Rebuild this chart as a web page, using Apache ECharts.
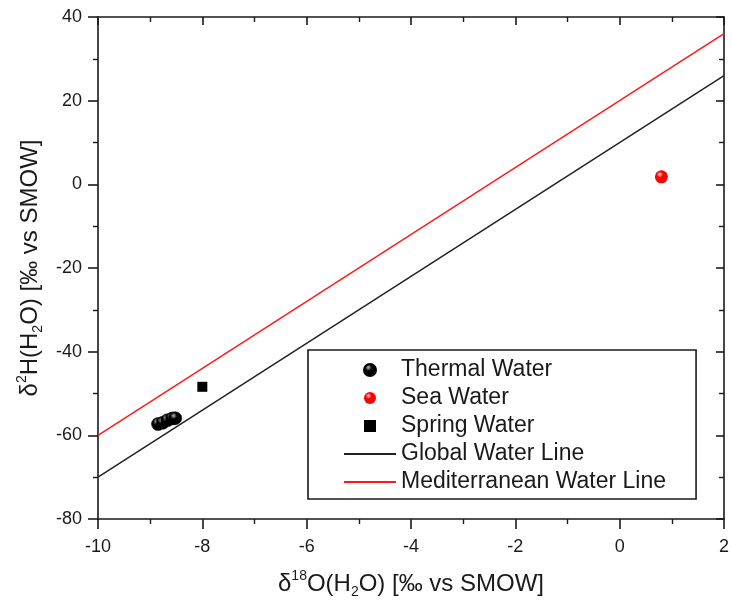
<!DOCTYPE html>
<html>
<head>
<meta charset="utf-8">
<script src="https://cdn.jsdelivr.net/npm/echarts@6/dist/echarts.min.js"></script>
<style>
  html, body { margin: 0; padding: 0; background: #fff; }
  #chart { width: 732px; height: 606px; }
</style>
</head>
<body>
<div id="chart"></div>
<script>
// data: [δ18O, δ2H]
const thermalWater = [[-8.85, -57.3], [-8.76, -57.0], [-8.67, -56.4], [-8.58, -56.0], [-8.52, -55.9]];
const seaWater = [[0.8, 1.8]];
const springWater = [[-8.0, -48.4]];
const globalLine = [[-10, -70], [2, 26]];
const mediterraneanLine = [[-10, -60], [2, 36]];

const xTicks = { min: -10, max: 2, interval: 2 };
const yTicks = { min: -80, max: 40, interval: 20 };

const font = "Liberation Sans, Arial, sans-serif";
const ink = "#1a1a1a";
const squareIcon = "path://M0,0L10,0L10,10L0,10Z";

const ball = (light, dark) => new echarts.graphic.RadialGradient(0.38, 0.32, 0.7, [
  { offset: 0, color: light },
  { offset: 0.35, color: dark },
  { offset: 1, color: dark }
]);

const titleRich = {
  n: { fontSize: 24, fontFamily: font, color: ink, lineHeight: 30, verticalAlign: "middle" },
  sup: { fontSize: 14, fontFamily: font, color: ink, lineHeight: 30, verticalAlign: "top" },
  sub: { fontSize: 14, fontFamily: font, color: ink, lineHeight: 30, verticalAlign: "bottom" }
};

const chart = echarts.init(document.getElementById("chart"));

const baseAxis = {
  type: "value",
  axisLine: { show: true, onZero: false, lineStyle: { color: ink, width: 1.6 } },
  axisTick: { show: true, inside: false, length: 10, lineStyle: { color: ink, width: 1.6 } },
  minorTick: { show: true, splitNumber: 2, length: 5, lineStyle: { color: ink, width: 1.4 } },
  splitLine: { show: false },
  axisLabel: { fontSize: 18, fontFamily: font, color: ink, margin: 16 }
};

chart.setOption({
  animation: false,
  backgroundColor: "#fff",
  grid: { left: 98, top: 17, right: 6, bottom: 87 },
  legend: {
    orient: "vertical",
    left: 308,
    top: 350,
    data: [
      { name: "Thermal Water" },
      { name: "Sea Water" },
      { name: "Spring Water", icon: squareIcon },
      { name: "Global Water Line", itemStyle: { opacity: 0 } },
      { name: "Mediterranean Water Line", itemStyle: { opacity: 0 } }
    ],
    backgroundColor: "#fff",
    borderColor: ink,
    borderWidth: 1.6,
    borderRadius: 0,
    padding: [8, 30, 5, 35],
    itemWidth: 52,
    itemHeight: 12,
    itemGap: 4,
    textStyle: { fontSize: 23, fontFamily: font, color: ink, lineHeight: 24 }
  },
  xAxis: [
    Object.assign({}, baseAxis, {
      position: "bottom",
      min: xTicks.min, max: xTicks.max, interval: xTicks.interval,
      axisLabel: { fontSize: 18, fontFamily: font, color: ink, margin: 19 },
      name: "{n|δ}{sup|18}{n|O(H}{sub|2}{n|O) [‰ vs SMOW]}",
      nameLocation: "middle",
      nameGap: 50,
      nameTextStyle: { rich: titleRich }
    }),
    Object.assign({}, baseAxis, {
      position: "top",
      min: xTicks.min, max: xTicks.max, interval: xTicks.interval,
      axisTick: { show: true, inside: true, length: 8, lineStyle: { color: ink, width: 1.6 } },
      minorTick: { show: true, splitNumber: 2, length: 5, lineStyle: { color: ink, width: 1.4 } },
      axisLabel: { show: false }
    })
  ],
  yAxis: [
    Object.assign({}, baseAxis, {
      position: "left",
      min: yTicks.min, max: yTicks.max, interval: yTicks.interval,
      name: "{n|δ}{sup|2}{n|H(H}{sub|2}{n|O) [‰ vs SMOW]}",
      nameLocation: "middle",
      nameRotate: 90,
      nameGap: 43,
      nameTextStyle: { rich: titleRich }
    }),
    Object.assign({}, baseAxis, {
      position: "right",
      min: yTicks.min, max: yTicks.max, interval: yTicks.interval,
      axisTick: { show: true, inside: true, length: 8, lineStyle: { color: ink, width: 1.6 } },
      minorTick: { show: true, splitNumber: 2, length: 5, lineStyle: { color: ink, width: 1.4 } },
      axisLabel: { show: false }
    })
  ],
  series: [
    {
      name: "Global Water Line",
      type: "line",
      data: globalLine,
      symbol: "none",
      lineStyle: { color: "#222", width: 1.5 },
      itemStyle: { color: "#222" },
      z: 2
    },
    {
      name: "Mediterranean Water Line",
      type: "line",
      data: mediterraneanLine,
      symbol: "none",
      lineStyle: { color: "#ff1a1a", width: 1.5 },
      itemStyle: { color: "#ff1a1a" },
      z: 2
    },
    {
      name: "Thermal Water",
      type: "scatter",
      data: thermalWater,
      symbol: "circle",
      symbolSize: 13,
      itemStyle: { color: ball("#bbbbbb", "#000000"), borderColor: "#000", borderWidth: 0.5, opacity: 1 },
      z: 3
    },
    {
      name: "Sea Water",
      type: "scatter",
      data: seaWater,
      symbol: "circle",
      symbolSize: 13,
      itemStyle: { color: ball("#ffd6d6", "#ff0000"), opacity: 1 },
      z: 3
    },
    {
      name: "Spring Water",
      type: "scatter",
      data: springWater,
      symbol: squareIcon,
      symbolSize: 10,
      itemStyle: { color: "#000", opacity: 1 },
      z: 3
    }
  ]
});
</script>
</body>
</html>
